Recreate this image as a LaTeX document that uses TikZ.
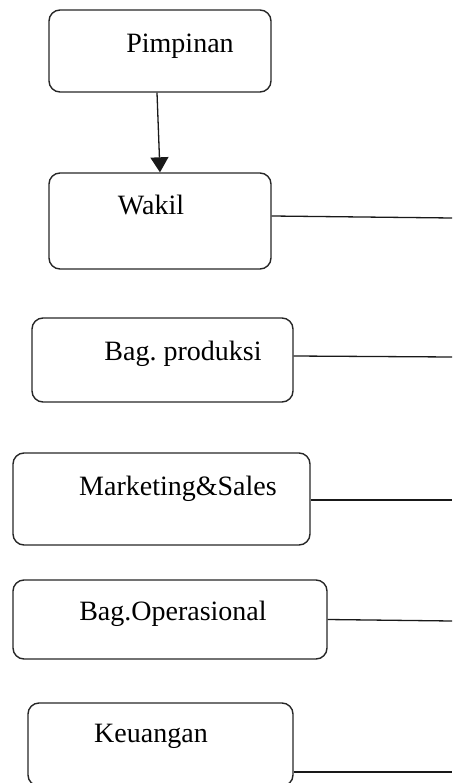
\documentclass[tikz,border=0pt]{standalone}
\usepackage{fontspec}
\setmainfont{Liberation Serif}
\usetikzlibrary{arrows.meta}
\frenchspacing
\begin{document}
\begin{tikzpicture}[x=1pt,y=-1pt,
  unitbox/.style={draw=black!85,line width=1.4pt,rounded corners=11pt,inner sep=0pt},
  unitlabel/.style={anchor=base,inner sep=0pt,font=\fontsize{28}{32}\selectfont},
  link/.style={draw=black!90,line width=1.3pt}]
\useasboundingbox (0,0) rectangle (452,783);
% boxes
\node[unitbox,minimum width=222pt,minimum height=82pt] (P) at (160,51) {};
\node[unitbox,minimum width=222pt,minimum height=96pt] (W) at (160,221) {};
\node[unitbox,minimum width=261pt,minimum height=84pt] (B) at (162.5,360) {};
\node[unitbox,minimum width=297pt,minimum height=92pt] (M) at (161.5,499) {};
\node[unitbox,minimum width=314pt,minimum height=79pt] (O) at (170,619.5) {};
\node[unitbox,minimum width=265pt,minimum height=83pt] (K) at (160.5,744.5) {};
% texts
\node[unitlabel] (tP) at (180,53) {Pimpinan};
\node[unitlabel] (tW) at (151,215) {Wakil};
\node[unitlabel] (tB) at (183,360) {Bag.\ produksi};
\node[unitlabel] (tM) at (178,495) {Marketing\&Sales};
\node[unitlabel] (tO) at (173,620) {Bag.Operasional};
\node[unitlabel] (tK) at (151,742) {Keuangan};
% free ends at the right margin
\coordinate (eW) at (452,218);
\coordinate (eB) at (452,357);
\coordinate (eM) at (452,500);
\coordinate (eO) at (452,621);
\coordinate (eK) at (452,772);
% connectors
\draw[link,-{Triangle[width=18pt,length=15pt]}] ([xshift=-3pt]P.south) -- (W.north);
\draw[link] ([yshift=5pt]W.east) -- (eW);
\draw[link] ([yshift=4pt]B.east) -- (eB);
\draw[link] ([yshift=-1pt]M.east) -- (eM);
\draw[link] (O.east) -- (eO);
\draw[link] ([yshift=-27.5pt]K.east) -- (eK);
\end{tikzpicture}
\end{document}
